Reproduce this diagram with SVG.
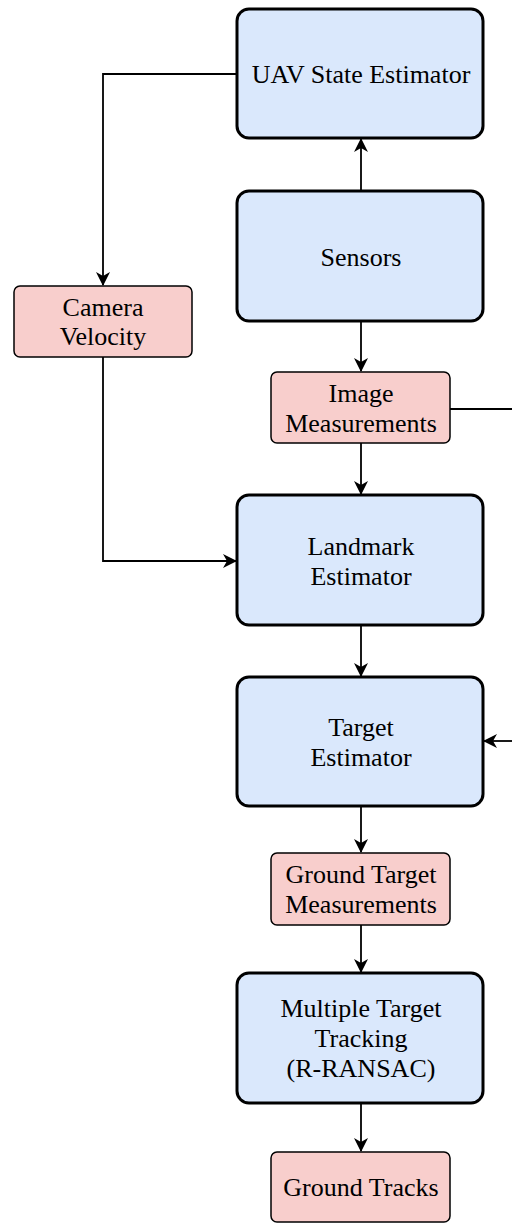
<svg xmlns="http://www.w3.org/2000/svg" width="512" height="1224" viewBox="0 0 512 1224">
<style>
.big{fill:#dae8fc;stroke:#000;stroke-width:3}
.small{fill:#f8cecc;stroke:#000;stroke-width:1.5}
.t{font-family:'Liberation Serif','Times New Roman',Times,serif;font-size:26px;fill:#000;text-anchor:middle}
.c{fill:none;stroke:#000;stroke-width:1.8}
</style>
<defs>
<marker id="ah" viewBox="0 0 14 14" refX="13" refY="7" markerWidth="14" markerHeight="14" markerUnits="userSpaceOnUse" orient="auto">
<path d="M0,0 L14,7 L0,14 L4,7 Z" fill="#000"/>
</marker>
</defs>
<g id="connectors">
<path class="c" d="M237,74 H103 V285" marker-end="url(#ah)"/>
<path class="c" d="M361,191 V139" marker-end="url(#ah)"/>
<path class="c" d="M361,321 V371" marker-end="url(#ah)"/>
<path class="c" d="M450,409 H512"/>
<path class="c" d="M361,443 V494" marker-end="url(#ah)"/>
<path class="c" d="M103,357 V561 H236" marker-end="url(#ah)"/>
<path class="c" d="M361,625 V676" marker-end="url(#ah)"/>
<path class="c" d="M512,741 H484" marker-end="url(#ah)"/>
<path class="c" d="M361,806 V852" marker-end="url(#ah)"/>
<path class="c" d="M361,925 V972" marker-end="url(#ah)"/>
<path class="c" d="M361,1103 V1151" marker-end="url(#ah)"/>
</g>
<g id="uav"><rect class="big" x="237" y="9" width="246" height="129" rx="12"/><text class="t" x="361" y="83">UAV State Estimator</text></g>
<g id="sensors"><rect class="big" x="237" y="191" width="246" height="130" rx="12"/><text class="t" x="361" y="266">Sensors</text></g>
<g id="camvel"><rect class="small" x="14" y="286" width="178" height="71" rx="6"/><text class="t" x="103" y="316">Camera</text><text class="t" x="103" y="345">Velocity</text></g>
<g id="imgmeas"><rect class="small" x="271" y="372" width="179" height="71" rx="6"/><text class="t" x="361" y="402">Image</text><text class="t" x="361" y="432">Measurements</text></g>
<g id="landmark"><rect class="big" x="237" y="495" width="246" height="130" rx="12"/><text class="t" x="361" y="555">Landmark</text><text class="t" x="361" y="585">Estimator</text></g>
<g id="target"><rect class="big" x="237" y="677" width="246" height="129" rx="12"/><text class="t" x="361" y="736">Target</text><text class="t" x="361" y="766">Estimator</text></g>
<g id="gtm"><rect class="small" x="271" y="853" width="179" height="72" rx="6"/><text class="t" x="361" y="883">Ground Target</text><text class="t" x="361" y="913">Measurements</text></g>
<g id="mtt"><rect class="big" x="237" y="973" width="246" height="130" rx="12"/><text class="t" x="361" y="1017">Multiple Target</text><text class="t" x="361" y="1047">Tracking</text><text class="t" x="361" y="1077">(R-RANSAC)</text></g>
<g id="tracks"><rect class="small" x="271" y="1152" width="179" height="70" rx="6"/><text class="t" x="361" y="1196">Ground Tracks</text></g>
</svg>
